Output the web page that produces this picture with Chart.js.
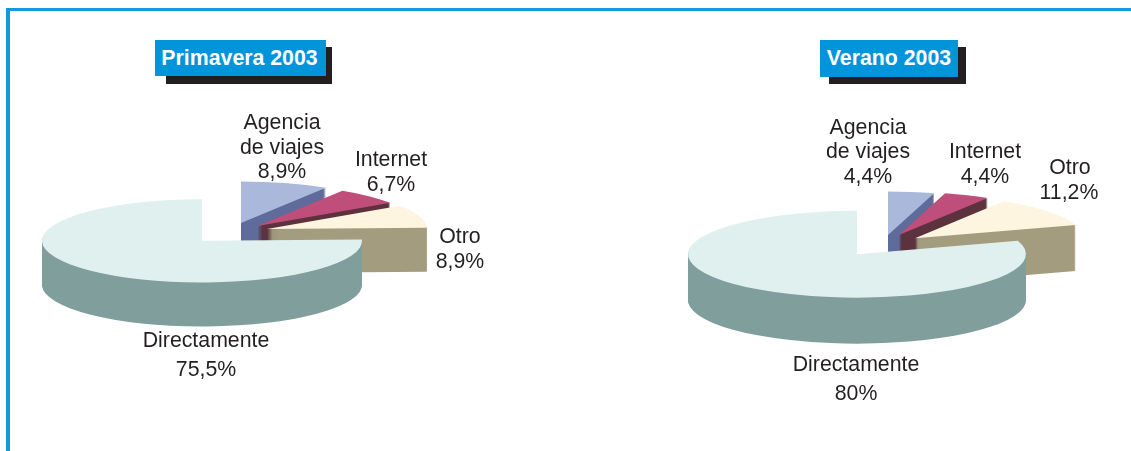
<!DOCTYPE html>
<html lang="es">
<head>
<meta charset="utf-8">
<title>Primavera y Verano 2003</title>
<script src="https://cdn.jsdelivr.net/npm/chart.js@4"></script>
<style>
html,body{margin:0;padding:0;background:#fff;width:1131px;height:451px;overflow:hidden;font-family:"Liberation Sans",Arial,sans-serif}
#frame{position:absolute;left:6px;top:8px;width:1125px;height:443px;border-left:4px solid #0f9bd9;border-top:3px solid #0f9bd9;box-sizing:border-box}
canvas{position:absolute;top:0}
.shadow{position:absolute;background:#231f20}
.title{position:absolute;background:#0095da;color:#fff;font-weight:bold;font-size:21.3px;display:flex;align-items:center;justify-content:center;white-space:nowrap}
</style>
</head>
<body>
<div id="frame"></div>
<div class="shadow" style="left:166px;top:47px;width:166px;height:37px"></div>
<div class="title" style="left:155px;top:40px;width:171px;height:36px;padding-right:2px;box-sizing:border-box">Primavera 2003</div>
<div class="shadow" style="left:829px;top:47px;width:137px;height:37px"></div>
<div class="title" style="left:820px;top:40px;width:138px;height:37px">Verano 2003</div>
<canvas id="c1" width="560" height="451" style="left:0"></canvas>
<canvas id="c2" width="571" height="451" style="left:560px"></canvas>
<script>
const categories = ["Agencia de viajes", "Internet", "Otro", "Directamente"];
const primaveraValues = [8.9, 6.7, 8.9, 75.5];
const veranoValues = [4.4, 4.4, 11.2, 80];

const topColors = ["#aab8dc", "#bf4e7b", "#fdf5df", "#e0f0ef"];
const sideColors = ["#5f6b9a", "#5b323e", "#a39c7f", "#7f9e9c"];

const labelLines = [["Agencia", "de viajes"], ["Internet"], ["Otro"], ["Directamente"]];
const fmt = v => String(v).replace(".", ",") + "%";

const pie3d = {
  id: "pie3d",
  beforeDatasetsDraw(chart, args, o) {
    const ctx = chart.ctx;
    const arcs = chart.getDatasetMeta(0).data;
    const off = document.createElement("canvas");
    off.width = chart.width;
    off.height = chart.height;
    const octx = off.getContext("2d");
    const place = (c, arc, i) => {
      c.translate(o.cx + o.shift[i][0], o.cy + o.shift[i][1]);
      c.scale(1, o.k);
      c.translate(-arc.x, -arc.y);
    };
    arcs.forEach((arc, i) => {
      const ghost = Object.create(arc);
      ghost.options = Object.assign({}, arc.options, { backgroundColor: "#000", borderWidth: 0 });
      // wall: stacked copies of the arc flattened to one uniform colour
      octx.globalCompositeOperation = "source-over";
      octx.clearRect(0, 0, off.width, off.height);
      octx.save();
      place(octx, arc, i);
      for (let d = o.depth; d >= 1; d--) {
        octx.save();
        octx.translate(0, d / o.k);
        ghost.draw(octx);
        octx.restore();
      }
      octx.restore();
      octx.globalCompositeOperation = "source-in";
      octx.fillStyle = sideColors[i];
      octx.fillRect(0, 0, off.width, off.height);
      ctx.drawImage(off, 0, 0);
      // top face
      ctx.save();
      place(ctx, arc, i);
      ghost.options = Object.assign({}, arc.options, { backgroundColor: topColors[i], borderWidth: 0 });
      ghost.draw(ctx);
      ctx.restore();
    });
    return false;
  },
  afterDraw(chart, args, o) {
    const ctx = chart.ctx;
    const vals = chart.data.datasets[0].data;
    ctx.save();
    ctx.font = '21.3px "Liberation Sans", Arial, sans-serif';
    ctx.fillStyle = "#231f20";
    ctx.textAlign = "center";
    ctx.textBaseline = "alphabetic";
    labelLines.forEach((lines, i) => {
      const p = o.labels[i];
      lines.forEach((t, j) => ctx.fillText(t, p.x, p.ys[j]));
      ctx.fillText(fmt(vals[i]), p.vx === undefined ? p.x : p.vx, p.ys[lines.length]);
    });
    ctx.restore();
  }
};

function makePie(id, values, r, geom) {
  const canvas = document.getElementById(id);
  const padX = (canvas.width - 2 * r) / 2, padY = (canvas.height - 2 * r) / 2;
  return new Chart(canvas, {
    type: "pie",
    plugins: [pie3d],
    data: { labels: categories, datasets: [{ data: values, backgroundColor: topColors, borderWidth: 0 }] },
    options: {
      responsive: false,
      animation: false,
      rotation: 0,
      layout: { padding: { left: padX, right: padX, top: padY, bottom: padY } },
      plugins: { legend: { display: false }, tooltip: { enabled: false }, pie3d: geom }
    }
  });
}

makePie("c1", primaveraValues, 160, {
  cx: 202, cy: 240.8, k: 0.26, depth: 44,
  shift: [[39, -17.8], [55.5, -14.8], [65, -11.8], [0, 0]],
  labels: [
    { x: 282, ys: [129, 154, 178] },
    { x: 391, ys: [166, 191] },
    { x: 460, ys: [243, 268] },
    { x: 206, ys: [347, 376] }
  ]
});

makePie("c2", veranoValues, 169, {
  cx: 297, cy: 254.2, k: 0.257, depth: 46,
  shift: [[31, -19.2], [42, -19.2], [58, -15.9], [0, 0]],
  labels: [
    { x: 308, ys: [134, 158, 183] },
    { x: 425, ys: [158, 183] },
    { x: 510, vx: 509, ys: [174, 199] },
    { x: 296, ys: [371, 400] }
  ]
});
</script>
</body>
</html>
